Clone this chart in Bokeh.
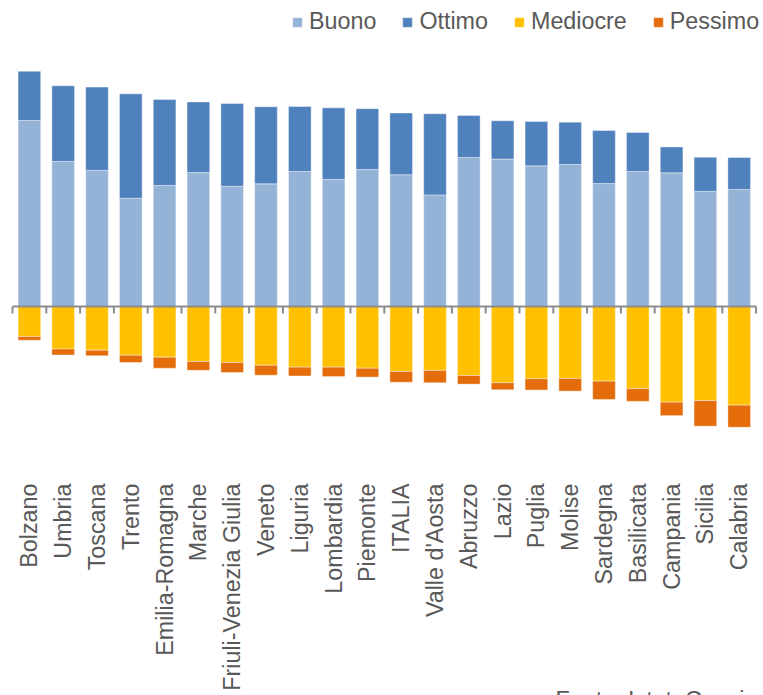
import numpy as np
from math import pi
from bokeh.plotting import figure
from bokeh.models import ColumnDataSource, Range1d, Legend, LegendItem, Label
from bokeh.core.properties import value
from bokeh.embed import file_html
from bokeh.resources import INLINE

regions = ["Bolzano", "Umbria", "Toscana", "Trento", "Emilia-Romagna", "Marche",
           "Friuli-Venezia Giulia", "Veneto", "Liguria", "Lombardia", "Piemonte",
           "ITALIA", "Valle d'Aosta", "Abruzzo", "Lazio", "Puglia", "Molise",
           "Sardegna", "Basilicata", "Campania", "Sicilia", "Calabria"]

buono = [69.0, 53.8, 50.5, 40.2, 44.9, 49.7, 44.6, 45.5, 50.1, 47.1, 50.8,
         48.9, 41.4, 55.3, 54.7, 52.2, 52.7, 45.6, 50.1, 49.6, 42.7, 43.4]
ottimo = [18.3, 28.1, 30.9, 38.7, 31.9, 26.2, 30.7, 28.6, 24.1, 26.6, 22.6,
          22.9, 30.1, 15.6, 14.2, 16.4, 15.7, 19.7, 14.5, 9.6, 12.7, 11.9]
mediocre = [11.1, 15.8, 16.2, 18.1, 18.8, 20.4, 20.8, 21.8, 22.5, 22.5, 22.9,
            24.1, 23.7, 25.6, 28.3, 26.8, 26.7, 27.7, 30.5, 35.5, 34.9, 36.6]
pessimo = [1.4, 2.2, 2.1, 2.7, 4.1, 3.3, 3.7, 3.7, 3.3, 3.5, 3.3,
           4.0, 4.6, 3.2, 2.6, 4.2, 4.7, 6.8, 4.7, 5.0, 9.5, 8.2]

series_names = ["Buono", "Ottimo", "Mediocre", "Pessimo"]
colors = ["#95B3D7", "#4F81BD", "#FFC000", "#E46C0A"]
source_note = "Fonte: Istat, Censimento"

n = len(regions)
idx = np.arange(n)
b = np.array(buono)
o = np.array(ottimo)
m = np.array(mediocre)
ps = np.array(pessimo)

src = ColumnDataSource(dict(
    x=idx, name=regions,
    b0=np.zeros(n), b1=b,
    o0=b, o1=b + o,
    m0=np.zeros(n), m1=-m,
    p0=-m, p1=-m - ps,
))

TXT = "#595959"
FONT = "Liberation Sans"
FS = "23.3px"

p = figure(width=763, height=695, output_backend="svg", toolbar_location=None,
           x_range=Range1d(-0.855, 21.719), y_range=Range1d(-144.34, 113.54),
           x_axis_type=None, y_axis_type=None, min_border=0,
           outline_line_color=None)
p.grid.visible = False

W = 0.67
rb = p.vbar(x="x", bottom="b0", top="b1", width=W, source=src, fill_color=colors[0],
            line_color="white", line_alpha=0.4, line_width=1)
ro = p.vbar(x="x", bottom="o0", top="o1", width=W, source=src, fill_color=colors[1],
            line_color="white", line_alpha=0.4, line_width=1)
rm = p.vbar(x="x", bottom="m0", top="m1", width=W, source=src, fill_color=colors[2],
            line_color="white", line_alpha=0.4, line_width=1)
rp = p.vbar(x="x", bottom="p0", top="p1", width=W, source=src, fill_color=colors[3],
            line_color="white", line_alpha=0.4, line_width=1)

# zero axis line and category boundary ticks
p.segment(x0=[-0.5], y0=[0], x1=[n - 0.5], y1=[0], line_color="#8C8C8C", line_width=1.8)
bounds = np.arange(n + 1) - 0.5
p.segment(x0=bounds, y0=np.zeros(n + 1), x1=bounds, y1=np.full(n + 1, -2.6),
          line_color="#8C8C8C", line_width=2)

# category labels (vertical)
p.text(x="x", y=-65.7, text="name", source=src, angle=pi / 2,
       text_align="right", text_baseline="middle",
       text_font=value(FONT), text_font_size=FS, text_color=TXT)

legend = Legend(items=[LegendItem(label=nm, renderers=[r]) for nm, r in
                       zip(series_names, [rb, ro, rm, rp])],
                orientation="horizontal", location=(291, 660),
                label_text_font=FONT, label_text_font_size=FS,
                label_text_color=TXT, glyph_width=12, glyph_height=12,
                label_standoff=6, spacing=25, padding=0, margin=0,
                border_line_color=None, background_fill_alpha=0)
p.add_layout(legend)

p.add_layout(Label(x=15.565, y=-141.2, text=source_note,
                   text_baseline="top", text_align="left",
                   text_font=FONT, text_font_size=FS, text_color=TXT))

open("out.html", "w").write(file_html(p, INLINE))
